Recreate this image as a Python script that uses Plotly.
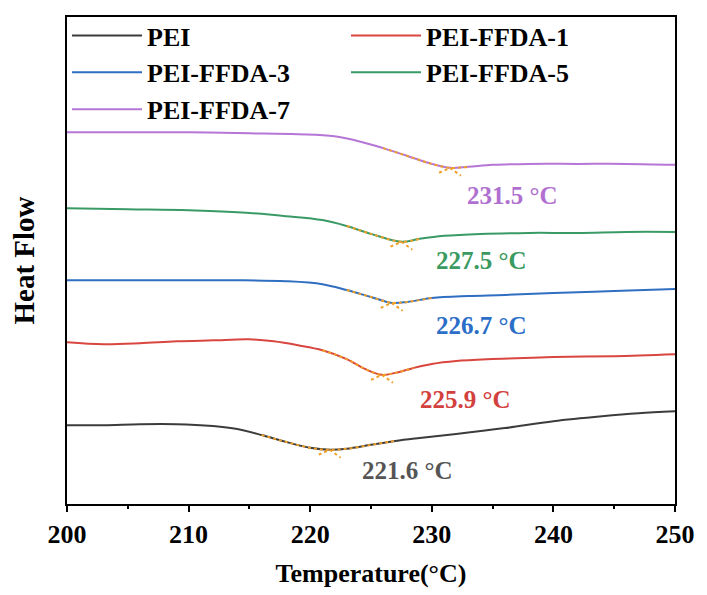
import plotly.graph_objects as go

# Temperature (°C) sample points and heat-flow (arbitrary units, offset curves)
T_pei = [200, 203, 206, 209, 212, 214, 216, 218, 220, 221.6, 223, 225, 227, 229, 232, 236, 240, 244, 247, 250]
H_pei = [80, 80, 81, 81, 79, 76, 70, 63, 57, 55, 56, 60, 64, 67, 71, 77, 84, 89, 92, 94]

T_f1 = [200, 203, 206, 209, 212, 215, 217, 219, 221, 223, 224.5, 225.9, 227, 228.5, 230, 232, 235, 240, 245, 250]
H_f1 = [164, 162, 163, 165, 166, 167, 165, 161, 156, 147, 137, 131, 133, 138, 142, 145, 147, 149, 150, 152]

T_f3 = [200, 205, 210, 214, 218, 221, 223, 225, 226.7, 228, 230, 233, 236, 240, 245, 250]
H_f3 = [227, 227, 227, 227, 226, 223, 217, 210, 204, 205, 209, 211, 212, 214, 216, 218]

T_f5 = [200, 205, 210, 214, 218, 221, 223, 225, 227.5, 229, 231, 234, 238, 242, 246, 250]
H_f5 = [300, 299, 298, 296, 292, 288, 282, 274, 266, 269, 272, 274, 275, 275, 276, 276]

T_f7 = [200, 205, 210, 215, 219, 222, 224, 226, 228, 230, 231.5, 233, 235, 238, 242, 246, 250]
H_f7 = [377, 377, 377, 376, 375, 373, 368, 361, 353, 345, 341, 342, 344, 345, 345, 345, 344]

names = ["PEI", "PEI-FFDA-1", "PEI-FFDA-3", "PEI-FFDA-5", "PEI-FFDA-7"]
colors = ["#3c3c3c", "#d9453f", "#2f6ec0", "#3a9a66", "#b576d6"]
label_colors = ["#555555", "#d2413d", "#2b6ec8", "#3a9a60", "#b070d0"]
Tg = [221.6, 225.9, 226.7, 227.5, 231.5]
Tg_labels = ["221.6 °C", "225.9 °C", "226.7 °C", "227.5 °C", "231.5 °C"]
# label anchor positions (temperature, heat flow)
label_T = [228.0, 232.8, 234.1, 234.1, 236.6]
label_H = [34, 106, 181, 247, 313]
# transition ranges covered by the orange tangent fit
fit_lo = [215.5, 221.0, 222.5, 221.5, 226.0]
fit_hi = [227.7, 229.8, 230.3, 230.9, 234.6]

data_T = [T_pei, T_f1, T_f3, T_f5, T_f7]
data_H = [H_pei, H_f1, H_f3, H_f5, H_f7]

FONT = "Liberation Serif"
orange = "#f0a028"

fig = go.Figure()
for i in range(5):
    fig.add_trace(go.Scatter(x=data_T[i], y=data_H[i], mode="lines", name=names[i],
                             line=dict(color=colors[i], width=2, shape="spline", smoothing=1.0)))
for i in range(5):
    sx = [t for t in data_T[i] if fit_lo[i] <= t <= fit_hi[i]]
    sy = [h for t, h in zip(data_T[i], data_H[i]) if fit_lo[i] <= t <= fit_hi[i]]
    fig.add_trace(go.Scatter(x=sx, y=sy, mode="lines", showlegend=False, hoverinfo="skip",
                             line=dict(color=orange, width=2, dash="dot", shape="spline")))
    hmin = min(data_H[i])
    fig.add_trace(go.Scatter(x=[Tg[i] - 0.9, Tg[i], Tg[i] + 0.9], y=[hmin - 5, hmin, hmin - 8],
                             mode="lines", showlegend=False, hoverinfo="skip",
                             line=dict(color=orange, width=2, dash="dot")))
    fig.add_annotation(x=label_T[i], y=label_H[i], text=Tg_labels[i], showarrow=False,
                       font=dict(family=FONT, size=25, color=label_colors[i], weight="bold"))

fig.update_layout(
    width=707, height=595,
    margin=dict(l=67, r=25, t=13, b=88),
    plot_bgcolor="white", paper_bgcolor="white",
    font=dict(family=FONT, color="black"),
    showlegend=True,
    legend=dict(orientation="h", x=0.0, y=1.01, xanchor="left", yanchor="top",
                entrywidth=194, entrywidthmode="pixels", itemwidth=70,
                font=dict(family=FONT, size=26, color="black", weight="bold"),
                bgcolor="rgba(0,0,0,0)", tracegroupgap=0),
    xaxis=dict(range=[200, 250], tickvals=[200, 210, 220, 230, 240, 250],
               ticks="outside", ticklen=6, tickwidth=2, tickcolor="black",
               minor=dict(tickvals=[205, 215, 225, 235, 245], ticks="outside", ticklen=3,
                          tickwidth=2, tickcolor="black"),
               showline=True, linewidth=2, linecolor="black", mirror=True,
               showgrid=False, zeroline=False,
               tickfont=dict(family=FONT, size=26, color="black", weight="bold"),
               title=dict(text="Temperature(°C)", standoff=16,
                          font=dict(family=FONT, size=26, color="black", weight="bold"))),
    yaxis=dict(range=[0, 494], showticklabels=False, ticks="",
               showline=True, linewidth=2, linecolor="black", mirror=True,
               showgrid=False, zeroline=False,
               title=dict(text="Heat Flow", standoff=22,
                          font=dict(family=FONT, size=29, color="black", weight="bold"))),
)

fig.write_html("out.html")
